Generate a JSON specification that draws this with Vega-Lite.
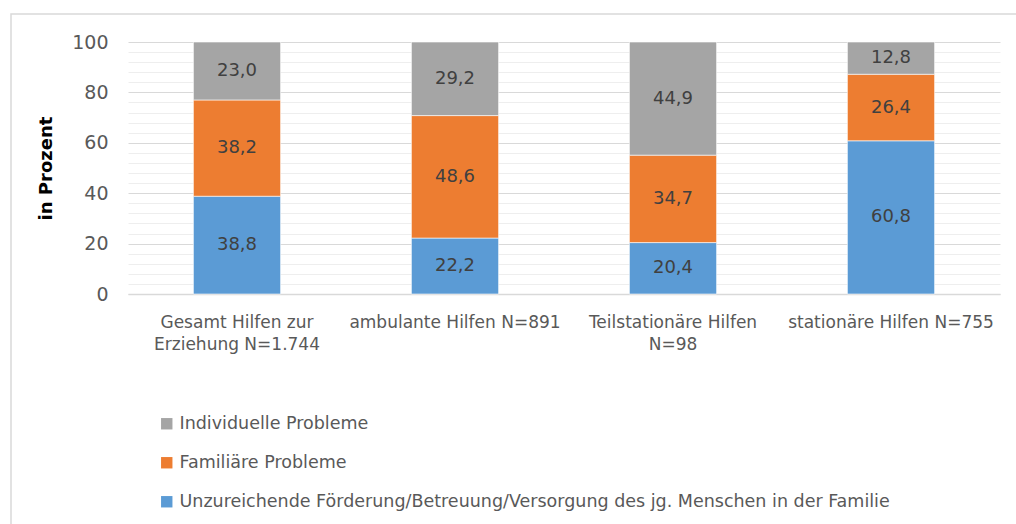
{
  "$schema": "https://vega.github.io/schema/vega-lite/v6.json",
  "autosize": "none",
  "width": 1010,
  "height": 515,
  "padding": {"left": 11, "top": 14, "right": 0, "bottom": 0},
  "background": "white",
  "config": {
    "font": "DejaVu Sans",
    "view": {"stroke": "#d9d9d9", "strokeWidth": 1.5},
    "locale": {"number": {"decimal": ",", "thousands": ".", "grouping": [3], "currency": ["", " €"]}}
  },
  "data": {"values": [
    {"cat": "Gesamt Hilfen zur\nErziehung  N=1.744", "problem": "Unzureichende Förderung/Betreuung/Versorgung des jg. Menschen in der Familie", "rank": 1, "value": 38.8},
    {"cat": "Gesamt Hilfen zur\nErziehung  N=1.744", "problem": "Familiäre Probleme", "rank": 2, "value": 38.2},
    {"cat": "Gesamt Hilfen zur\nErziehung  N=1.744", "problem": "Individuelle Probleme", "rank": 3, "value": 23.0},
    {"cat": "ambulante Hilfen N=891", "problem": "Unzureichende Förderung/Betreuung/Versorgung des jg. Menschen in der Familie", "rank": 1, "value": 22.2},
    {"cat": "ambulante Hilfen N=891", "problem": "Familiäre Probleme", "rank": 2, "value": 48.6},
    {"cat": "ambulante Hilfen N=891", "problem": "Individuelle Probleme", "rank": 3, "value": 29.2},
    {"cat": "Teilstationäre Hilfen\nN=98", "problem": "Unzureichende Förderung/Betreuung/Versorgung des jg. Menschen in der Familie", "rank": 1, "value": 20.4},
    {"cat": "Teilstationäre Hilfen\nN=98", "problem": "Familiäre Probleme", "rank": 2, "value": 34.7},
    {"cat": "Teilstationäre Hilfen\nN=98", "problem": "Individuelle Probleme", "rank": 3, "value": 44.9},
    {"cat": "stationäre Hilfen N=755", "problem": "Unzureichende Förderung/Betreuung/Versorgung des jg. Menschen in der Familie", "rank": 1, "value": 60.8},
    {"cat": "stationäre Hilfen N=755", "problem": "Familiäre Probleme", "rank": 2, "value": 26.4},
    {"cat": "stationäre Hilfen N=755", "problem": "Individuelle Probleme", "rank": 3, "value": 12.8}
  ]},
  "transform": [
    {"stack": "value", "groupby": ["cat"], "sort": [{"field": "rank", "order": "ascending"}], "as": ["y0", "y1"]},
    {"calculate": "(datum.y0 + datum.y1) / 2", "as": "mid"}
  ],
  "encoding": {
    "x": {
      "field": "cat", "type": "nominal", "sort": null, "title": null,
      "scale": {"paddingInner": 0.6, "paddingOuter": 0.3, "range": [117, 989]},
      "axis": {
        "labelExpr": "split(datum.label, '\\n')", "offset": -235,
        "labelAngle": 0, "labelFont": "DejaVu Sans", "labelFontSize": 17, "labelColor": "#595959",
        "labelLineHeight": 22, "labelPadding": 20, "ticks": false,
        "domainColor": "#d9d9d9", "domainWidth": 1.3, "labelLimit": 300
      }
    }
  },
  "layer": [
    {
      "mark": {"type": "bar", "stroke": "#ffffff", "strokeWidth": 0.6},
      "encoding": {
        "y": {
          "field": "y0", "type": "quantitative", "scale": {"domain": [0, 100], "range": [280, 28]},
          "axis": {
            "values": [0, 20, 40, 60, 80, 100], "title": "in Prozent", "offset": -117,
            "titleFont": "DejaVu Sans", "titleFontSize": 18, "titleFontWeight": "bold", "titleColor": "#000000",
            "titleX": -73, "titleY": 154,
            "labelFont": "DejaVu Sans", "labelFontSize": 19, "labelColor": "#595959", "labelPadding": 20,
            "ticks": false, "domain": false, "gridColor": "#d9d9d9", "gridWidth": 1
          }
        },
        "y2": {"field": "y1"},
        "color": {
          "field": "problem", "type": "nominal",
          "scale": {
            "domain": ["Individuelle Probleme", "Familiäre Probleme", "Unzureichende Förderung/Betreuung/Versorgung des jg. Menschen in der Familie"],
            "range": ["#a5a5a5", "#ed7d31", "#5b9bd5"]
          },
          "legend": {
            "title": null, "orient": "none", "legendX": 147, "legendY": 401,
            "direction": "vertical", "symbolType": "square", "symbolSize": 130,
            "symbolStrokeWidth": 0, "labelFont": "DejaVu Sans", "labelFontSize": 17.5, "labelColor": "#595959",
            "rowPadding": 20, "labelOffset": 4, "labelLimit": 900
          }
        }
      }
    },
    {
      "mark": {"type": "text", "font": "DejaVu Sans", "fontSize": 18, "color": "#404040", "baseline": "middle"},
      "encoding": {
        "y": {
          "field": "mid", "type": "quantitative",
          "axis": {
            "orient": "left", "values": [4, 8, 12, 16, 24, 28, 32, 36, 44, 48, 52, 56, 64, 68, 72, 76, 84, 88, 92, 96],
            "labels": false, "ticks": false, "domain": false, "title": null,
            "grid": true, "gridColor": "#eeeeee", "gridWidth": 1, "offset": -117
          }
        },
        "text": {"field": "value", "type": "quantitative", "format": ".1f"}
      }
    }
  ],
  "resolve": {"axis": {"y": "independent"}}
}
